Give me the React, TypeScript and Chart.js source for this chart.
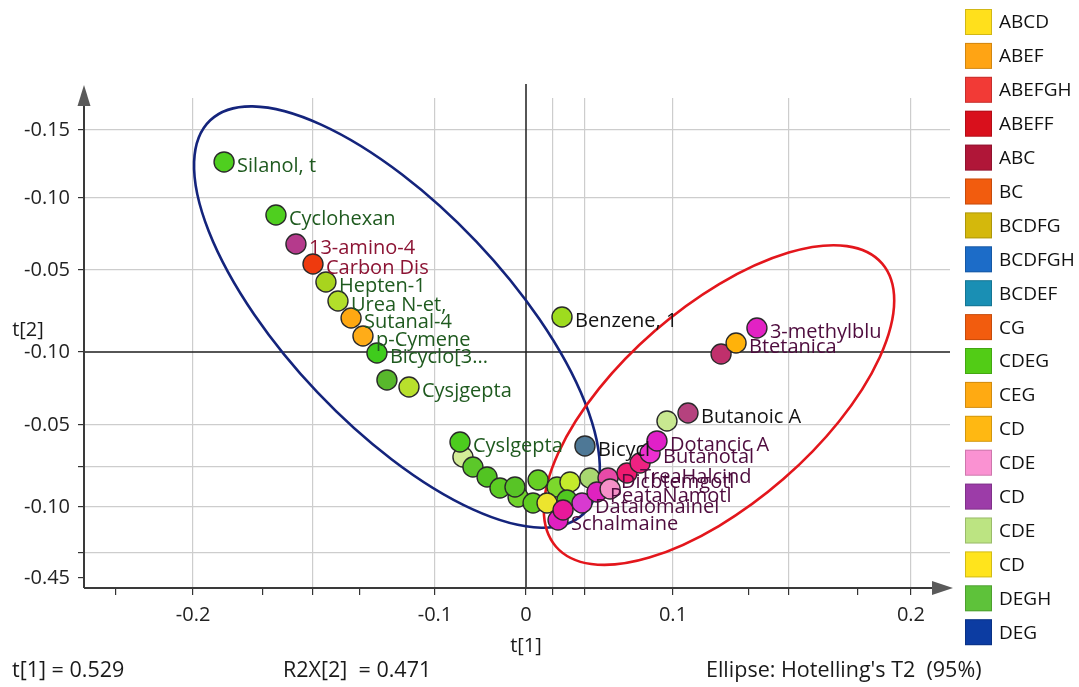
import { useEffect, useRef } from 'react';
import { Chart, registerables } from 'chart.js';

Chart.register(...registerables);

const FONT = '"Open Sans", "Noto Sans", "DejaVu Sans", sans-serif';

// ---- score values: t[1] (horizontal) and t[2] (vertical) ----
const scoreT1 = [
  -0.2054, -0.1701, -0.1565, -0.1449, -0.1361, -0.1279, -0.119, -0.1109, -0.1014, -0.0946, -0.0796,
  0.0245, 0.1327, 0.1429, 0.1571, 0.0959, 0.1102, 0.0401,
  -0.0429, -0.0449, -0.0361, -0.0265, -0.0177, -0.0054, -0.0075, 0.0048, 0.0082, 0.0211, 0.0435, 0.0299, 0.0279, 0.0143,
  0.0558, 0.0218, 0.0252, 0.0381, 0.0483, 0.0572, 0.0687, 0.0776, 0.0844, 0.0891,
];
const scoreT2 = [
  0.1293, 0.0932, 0.0735, 0.0599, 0.0476, 0.0347, 0.0231, 0.0109, -0.0007, -0.019, -0.0238,
  0.0238, -0.0014, 0.0061, 0.0163, -0.0469, -0.0415, -0.0639,
  -0.0714, -0.0612, -0.0782, -0.085, -0.0925, -0.0986, -0.0918, -0.1027, -0.0871, -0.0918, -0.0857, -0.0884, -0.1007, -0.1027,
  -0.0857, -0.1143, -0.1075, -0.1027, -0.0952, -0.0932, -0.0823, -0.0755, -0.0687, -0.0605,
];
const pointColors = [
  '#4fcf1f', '#4fcf1f', '#b53a8c', '#ee3a0e', '#a8d41e', '#b2de2a', '#ffa812', '#ffac18', '#3fcc1c', '#58b82c', '#b8e02c',
  '#9edc1e', '#c0306c', '#ffb20a', '#e222c4', '#c8e890', '#b5427e', '#4e7896',
  '#d4ec98', '#4ccc1e', '#5cc82a', '#52c422', '#5ccc22', '#70d42a', '#58c426', '#60cc22', '#66d024', '#7cd82c', '#a8d870', '#c4ec2c', '#50c820', '#ece52e',
  '#e84aa8', '#e020c0', '#e8189a', '#d83ad0', '#e022c0', '#f590c8', '#ee1a70', '#ee2282', '#ee30d0', '#e020c8',
];
const pointNames = [
  'Silanol, t', 'Cyclohexan', '13-amino-4', 'Carbon Dis', 'Hepten-1', 'Urea N-et,', 'Sutanal-4', 'p-Cymene', 'Bicyclo[3...', '', 'Cysjgepta',
  'Benzene, 1', '', 'Btetanica', '3-methylblu', '', 'Butanoic A', 'Bicycl',
  '', 'Cyslgepta', '', '', '', '', '', '', '', '', '', '', '', '',
  'Dicbtemgotl', 'Schalmaine', '', 'Datalomainel', 'PeataNamotl', '', 'TreaHalcind', '', 'Butanotal', 'Dotancic A',
];
const G = '#1f5a1f';
const R = '#8c1434';
const P = '#4e0c3e';
const K = '#141414';
const nameColors = [
  G, G, R, R, G, G, G, G, G, G, G,
  K, K, P, P, K, K, K,
  G, G, G, G, G, G, G, G, G, G, G, G, G, G,
  P, P, P, P, P, P, P, P, P, P,
];

// ---- axes ----
const xMin = -0.30068;
const xMax = 0.288435;
const yMin = -0.160544;
const yMax = 0.172789;
const xTickValues = [-0.2789, -0.2265, -0.1789, -0.1449, -0.1129, -0.0619, 0, 0.0184, 0.0401, 0.1, 0.1517, 0.1789, 0.2259, 0.2619];
const xTickLabels = ['', '-0.2', '', '', '', '-0.1', '0', '', '', '0.1', '', '', '', '0.2'];
const xTickGridline = [false, true, false, true, false, true, false, true, true, true, false, true, false, true];
const yTickValues = [-0.1537, -0.1367, -0.1054, -0.0782, -0.0497, 0, 0.0558, 0.1048, 0.151];
const yTickLabels = ['-0.45', '', '-0.10', '', '-0.05', '-0.10', '-0.05', '-0.10', '-0.15'];
const yTickGridline = [false, true, true, true, true, false, true, true, true];

// ---- Hotelling's T2 ellipses ----
const ellipseCenterT1 = [-0.0878, 0.1313];
const ellipseCenterT2 = [0.0238, -0.0361];
const ellipseSemiMajor = [0.1845, 0.1469];
const ellipseSemiMinor = [0.0745, 0.0667];
const ellipseAngleDeg = [-46.5, 41.0];
const ellipseColors = ['#14247c', '#e3161c'];

// ---- legend ----
const legendNames = ['ABCD', 'ABEF', 'ABEFGH', 'ABEFF', 'ABC', 'BC', 'BCDFG', 'BCDFGH', 'BCDEF', 'CG', 'CDEG', 'CEG', 'CD', 'CDE', 'CD', 'CDE', 'CD', 'DEGH', 'DEG'];
const legendColors = ['#ffe01c', '#ffa414', '#f23a36', '#d9101c', '#b01638', '#f25c0e', '#d4b80c', '#1c6cc8', '#1a8fb4', '#f25c0e', '#52cc16', '#ffaa12', '#ffb812', '#fa92d2', '#9c3ca8', '#bce482', '#ffe41c', '#5ec23a', '#0c3ca2'];

// ---- footer / titles ----
const xTitle = 't[1]';
const yTitle = 't[2]';
const footerLeft = 't[1] = 0.529';
const footerMid = 'R2X[2]  = 0.471';
const footerRight = "Ellipse: Hotelling's T2  (95%)";

const decorPlugin = {
  id: 'decor',
  beforeDatasetsDraw(chart: any) {
    const { ctx, chartArea, scales } = chart;
    const xs = scales.x;
    const ys = scales.y;
    ctx.save();
    const x0 = xs.getPixelForValue(0);
    const y0 = ys.getPixelForValue(0);
    ctx.strokeStyle = '#1e1e1e';
    ctx.lineWidth = 1.5;
    ctx.beginPath();
    ctx.moveTo(x0, chartArea.top - 14);
    ctx.lineTo(x0, chartArea.bottom);
    ctx.stroke();
    ctx.beginPath();
    ctx.moveTo(chartArea.left, y0);
    ctx.lineTo(chartArea.right, y0);
    ctx.stroke();

    const ux = xs.getPixelForValue(1) - xs.getPixelForValue(0);
    const uy = ys.getPixelForValue(0) - ys.getPixelForValue(1);
    for (let i = 0; i < ellipseColors.length; i++) {
      const cx = xs.getPixelForValue(ellipseCenterT1[i]);
      const cy = ys.getPixelForValue(ellipseCenterT2[i]);
      ctx.strokeStyle = ellipseColors[i];
      ctx.lineWidth = 2.6;
      ctx.beginPath();
      ctx.ellipse(cx, cy, ellipseSemiMajor[i] * ux, ellipseSemiMinor[i] * uy, (-ellipseAngleDeg[i] * Math.PI) / 180, 0, Math.PI * 2);
      ctx.stroke();
    }
    ctx.restore();
  },
  afterDatasetsDraw(chart: any) {
    const { ctx } = chart;
    const meta = chart.getDatasetMeta(0);
    ctx.save();
    ctx.font = `20px ${FONT}`;
    ctx.textBaseline = 'middle';
    ctx.textAlign = 'left';
    meta.data.forEach((el: any, i: number) => {
      if (!pointNames[i]) return;
      ctx.fillStyle = nameColors[i];
      ctx.fillText(pointNames[i], el.x + 13, el.y + 4);
    });
    ctx.restore();
  },
  afterDraw(chart: any) {
    const { ctx, chartArea, scales } = chart;
    const xs = scales.x;
    ctx.save();
    // axis lines
    ctx.strokeStyle = '#3a3a3a';
    ctx.lineWidth = 2;
    ctx.beginPath();
    ctx.moveTo(chartArea.left, chartArea.bottom);
    ctx.lineTo(chartArea.left, chartArea.top);
    ctx.stroke();
    ctx.beginPath();
    ctx.moveTo(chartArea.left, chartArea.bottom);
    ctx.lineTo(chartArea.right - 16, chartArea.bottom);
    ctx.stroke();
    // arrows
    ctx.fillStyle = '#5a5a5a';
    ctx.beginPath();
    ctx.moveTo(chartArea.left, chartArea.top - 13);
    ctx.lineTo(chartArea.left - 6.5, chartArea.top + 8);
    ctx.lineTo(chartArea.left + 6.5, chartArea.top + 8);
    ctx.closePath();
    ctx.fill();
    ctx.beginPath();
    ctx.moveTo(chartArea.right + 3, chartArea.bottom);
    ctx.lineTo(chartArea.right - 18, chartArea.bottom - 7);
    ctx.lineTo(chartArea.right - 18, chartArea.bottom + 7);
    ctx.closePath();
    ctx.fill();

    // titles
    ctx.fillStyle = '#1a1a1a';
    ctx.font = `20px ${FONT}`;
    ctx.textBaseline = 'middle';
    ctx.textAlign = 'center';
    ctx.fillText(xTitle, xs.getPixelForValue(0), 646);
    ctx.fillText(yTitle, 28, 330);

    // footer
    ctx.font = `21.5px ${FONT}`;
    ctx.textAlign = 'left';
    ctx.fillText(footerLeft, 12, 671);
    ctx.fillText(footerMid, 283, 671);
    ctx.fillText(footerRight, 706, 671);

    // legend
    ctx.font = `19px ${FONT}`;
    for (let i = 0; i < legendNames.length; i++) {
      const cy = 22 + i * 33.9;
      ctx.fillStyle = legendColors[i];
      ctx.fillRect(965, cy - 13, 27, 26);
      ctx.strokeStyle = 'rgba(0,0,0,0.18)';
      ctx.lineWidth = 1;
      ctx.strokeRect(965.5, cy - 12.5, 26, 25);
      ctx.fillStyle = '#111111';
      ctx.fillText(legendNames[i], 999, cy + 1);
    }
    ctx.restore();
  },
};

export default function App() {
  const canvasRef = useRef<HTMLCanvasElement | null>(null);

  useEffect(() => {
    if (!canvasRef.current) return;
    const chart = new Chart(canvasRef.current, {
      type: 'scatter',
      data: {
        datasets: [
          {
            data: scoreT1.map((x, i) => ({ x, y: scoreT2[i] })),
            backgroundColor: pointColors,
            borderColor: '#2a2a2a',
            borderWidth: 1.4,
            pointRadius: 10,
            pointHoverRadius: 10,
          },
        ],
      },
      options: {
        responsive: false,
        animation: false,
        layout: { padding: { top: 98, right: 129, left: 0, bottom: 0 } },
        plugins: {
          legend: { display: false },
          tooltip: { enabled: false },
        },
        scales: {
          x: {
            type: 'linear',
            min: xMin,
            max: xMax,
            afterBuildTicks: (scale: any) => {
              scale.ticks = xTickValues.map((v) => ({ value: v }));
            },
            afterFit: (scale: any) => {
              scale.height = 99;
            },
            border: { display: false },
            grid: {
              color: (c: any) => (xTickGridline[c.index] ? '#cdcdcd' : 'rgba(0,0,0,0)'),
              lineWidth: 1.2,
              tickColor: '#333333',
              tickLength: 7,
              drawTicks: true,
            },
            ticks: {
              autoSkip: false,
              maxRotation: 0,
              padding: 8,
              color: '#222222',
              font: { family: FONT, size: 20 },
              callback: (_v: any, i: number) => xTickLabels[i],
            },
          },
          y: {
            type: 'linear',
            min: yMin,
            max: yMax,
            afterBuildTicks: (scale: any) => {
              scale.ticks = yTickValues.map((v) => ({ value: v }));
            },
            afterFit: (scale: any) => {
              scale.width = 84;
            },
            border: { display: false },
            grid: {
              color: (c: any) => (yTickGridline[c.index] ? '#cdcdcd' : 'rgba(0,0,0,0)'),
              lineWidth: 1.2,
              tickColor: '#333333',
              tickLength: 6,
              drawTicks: true,
            },
            ticks: {
              autoSkip: false,
              padding: 8,
              color: '#222222',
              font: { family: FONT, size: 20 },
              callback: (_v: any, i: number) => yTickLabels[i],
            },
          },
        },
      } as any,
      plugins: [decorPlugin],
    });
    return () => chart.destroy();
  }, []);

  return (
    <div style={{ position: 'absolute', left: 0, top: 0, width: 1079, height: 687, background: '#ffffff' }}>
      <canvas ref={canvasRef} width={1079} height={687} />
    </div>
  );
}
